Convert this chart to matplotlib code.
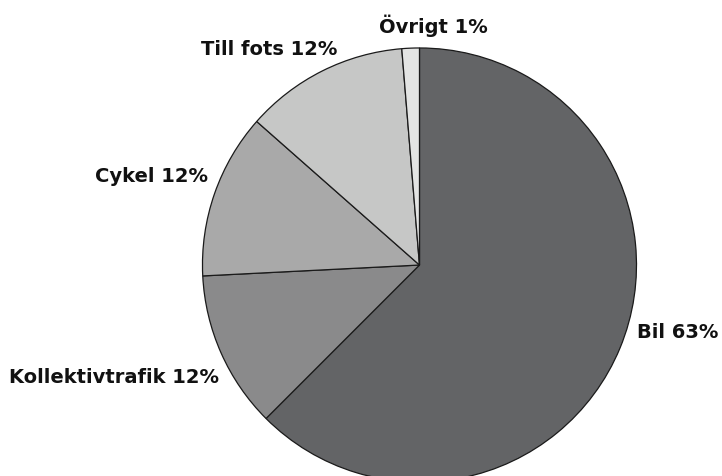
import matplotlib
matplotlib.use("Agg")
import matplotlib.pyplot as plt

categories = ["Bil", "Kollektivtrafik", "Cykel", "Till fots", "Övrigt"]
values = [62.5, 11.7, 12.3, 12.2, 1.3]
labels = ["Bil 63%", "Kollektivtrafik 12%", "Cykel 12%", "Till fots 12%", "Övrigt 1%"]
colors = ["#636466", "#8a8a8b", "#a9a9a9", "#c6c7c6", "#e3e4e3"]

fig = plt.figure(figsize=(7.22, 4.76), dpi=100)
ax = fig.add_axes([0, 0, 1, 1])
ax.pie(values, colors=colors, startangle=90, counterclock=False, radius=1.0,
       wedgeprops=dict(edgecolor="#1a1a1a", linewidth=0.9))
ax.set_xlim(-1.933, 1.394)
ax.set_ylim(-0.972, 1.221)
ax.set_aspect("auto")
ax.axis("off")

# label layout: (x, y, ha)
label_pos = {
    "Bil": (1.002, -0.336, "left"),
    "Kollektivtrafik": (-0.924, -0.544, "right"),
    "Cykel": (-0.975, 0.382, "right"),
    "Till fots": (-0.380, 0.968, "right"),
    "Övrigt": (0.062, 1.069, "center"),
}
for cat, lab in zip(categories, labels):
    x, y, ha = label_pos[cat]
    ax.text(x, y, lab, ha=ha, va="baseline", fontsize=14,
            fontweight="bold", family=["DejaVu Sans"], color="#111111")

fig.savefig("out.png", dpi=100)
